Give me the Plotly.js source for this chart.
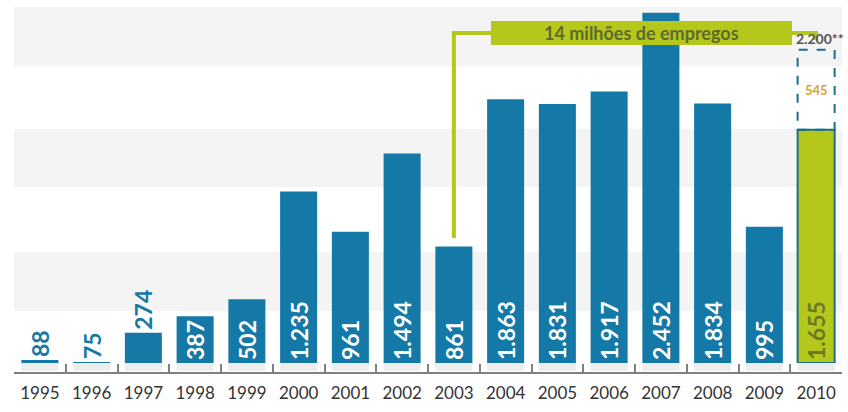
<!DOCTYPE html>
<html>
<head>
<meta charset="utf-8">
<script src="https://cdn.plot.ly/plotly-3.0.1.min.js"></script>
<style>html,body{margin:0;padding:0;background:#fff;}#chart{width:848px;height:412px;}</style>
</head>
<body>
<div id="chart"></div>
<script>
// ---- data (thousands of formal jobs created) ----
const years = ['1995','1996','1997','1998','1999','2000','2001','2002','2003','2004','2005','2006','2007','2008','2009','2010'];
const jobs = [88, 75, 274, 387, 502, 1235, 961, 1494, 861, 1863, 1831, 1917, 2452, 1834, 995, 1655];
const jobLabels = ['88','75','274','387','502','1.235','961','1.494','861','1.863','1.831','1.917','2.452','1.834','995','1.655'];
const projection2010 = 545;
const projectionLabel = '545';
const total2010Label = '2.200**';
const bracketText = '14 milhões de empregos';
const bracketFrom = '2003';
const bracketTo = '2010';

// ---- styling ----
const BLUE = '#1479a7';
const GREEN = '#b5c71a';
const DARKTEAL = '#1b6f8c';
const axisFloor = 68;          // value sitting on the bottom of the plotting area
const pxPerUnit = 0.1469;
const plotPx = 358;
const barFrac = 0.715;
const half = barFrac / 2;
const n = years.length;
const last = n - 1;

const insideCols = jobs.map((v, i) => i === last ? '#6a7a22' : '#ffffff');
const positions = jobs.map(v => v < 300 ? 'outside' : 'inside');

const bars = {
  type: 'bar',
  x: years,
  y: jobs.map(v => v - axisFloor),
  base: axisFloor,
  text: jobLabels,
  texttemplate: '%{text}',
  textposition: positions,
  textangle: -90,
  insidetextanchor: 'start',
  constraintext: 'none',
  cliponaxis: false,
  insidetextfont: {family: 'Lato, sans-serif', size: 23, color: insideCols, weight: 'bold'},
  outsidetextfont: {family: 'Lato, sans-serif', size: 23, color: BLUE, weight: 'bold'},
  marker: {
    color: jobs.map((v, i) => i === last ? GREEN : BLUE),
    line: {color: jobs.map((v, i) => i === last ? DARKTEAL : BLUE), width: jobs.map((v, i) => i === last ? 2 : 0)}
  },
  hoverinfo: 'skip',
  showlegend: false
};

const shapes = [];
// alternating light bands
[[0.9944, 0.8296], [0.6536, 0.4916], [0.3101, 0.1453]].forEach(b => {
  shapes.push({type: 'rect', xref: 'x domain', yref: 'y domain', x0: 0, x1: 1, y0: b[1], y1: b[0],
    fillcolor: '#f4f4f4', line: {width: 0}, layer: 'below'});
});
// soft shadows under bars
years.forEach((y, i) => {
  shapes.push({type: 'rect', xref: 'x', yref: 'paper', x0: i - half, x1: i + half, y0: 0.006, y1: 0.027,
    fillcolor: 'rgba(0,0,0,0.07)', line: {width: 0}, layer: 'below'});
});
// projected 2010 portion (dashed)
shapes.push({type: 'rect', xref: 'x', yref: 'y', x0: last - half, x1: last + half,
  y0: jobs[last], y1: jobs[last] + projection2010,
  line: {color: DARKTEAL, width: 2, dash: 'dash'}, fillcolor: 'rgba(255,255,255,0)'});
// bracket
const iA = years.indexOf(bracketFrom), iB = years.indexOf(bracketTo);
const topY = 0.924;
shapes.push({type: 'path', xref: 'x', yref: 'paper',
  path: `M ${iA} 0.367 L ${iA} ${topY} L ${iB} ${topY} L ${iB} 0.905`,
  line: {color: GREEN, width: 4}});
shapes.push({type: 'rect', xref: 'paper', yref: 'paper', x0: 0.576, x1: 0.9396, y0: 0.891, y1: 0.9565,
  fillcolor: GREEN, line: {width: 0}});

const annotations = [
  {xref: 'paper', yref: 'paper', x: (0.576 + 0.9396) / 2, y: 0.924, xanchor: 'center', yanchor: 'middle',
    text: bracketText, showarrow: false,
    font: {family: 'Lato, sans-serif', size: 18, color: '#5d6a2c', weight: 'bold'}},
  {xref: 'x', yref: 'y', x: last, y: jobs[last] + projection2010 / 2, xanchor: 'center', yanchor: 'middle',
    text: projectionLabel, showarrow: false,
    font: {family: 'Lato, sans-serif', size: 13, color: '#e0a12a', weight: 'bold'}},
  {xref: 'x', yref: 'y', x: last + 0.08, y: jobs[last] + projection2010, xanchor: 'center', yanchor: 'bottom', yshift: 1,
    text: total2010Label, showarrow: false,
    font: {family: 'Lato, sans-serif', size: 14, color: '#555555', weight: 'bold'}}
];

const layout = {
  width: 848, height: 412,
  margin: {l: 14, r: 6, t: 5, b: 39, pad: 0},
  paper_bgcolor: '#ffffff', plot_bgcolor: 'rgba(0,0,0,0)',
  bargap: 1 - barFrac,
  xaxis: {
    type: 'category', range: [-0.5, n - 0.5], anchor: 'free', position: 0,
    showline: true, linecolor: '#808080', linewidth: 2,
    ticks: 'inside', tickson: 'boundaries', ticklen: 8, tickwidth: 2, tickcolor: '#808080',
    showgrid: false, zeroline: false,
    tickangle: 0,
    ticklabelstandoff: 5,
    tickfont: {family: 'Lato, sans-serif', size: 17, color: '#333333'},
    fixedrange: true
  },
  yaxis: {
    domain: [10 / 368, 1], range: [axisFloor, axisFloor + plotPx / pxPerUnit],
    visible: false, showgrid: false, zeroline: false, fixedrange: true
  },
  shapes: shapes,
  annotations: annotations,
  showlegend: false
};

Plotly.newPlot('chart', [bars], layout, {displayModeBar: false, staticPlot: true});
</script>
</body>
</html>
